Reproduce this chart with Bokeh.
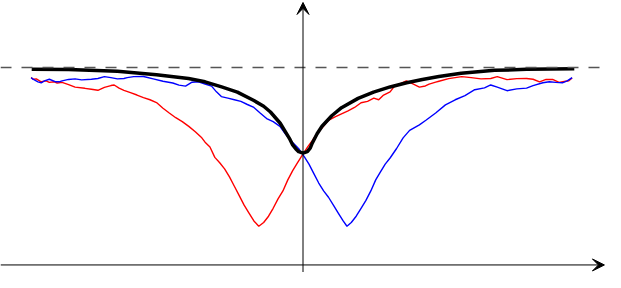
from bokeh.plotting import figure
from bokeh.models import Range1d, Span, Arrow, VeeHead
from bokeh.embed import file_html
from bokeh.resources import INLINE

# ---- data ----
asymptote = 100.0

black_x = [-100.0, -86.4, -68.4, -54.0, -42.2, -36.1, -30.0, -24.2, -18.1, -14.5, -12.0,
           -8.4, -6.3, -4.8, -3.8, -2.7, -1.6, 0.0, 1.6, 2.7, 3.4, 5.2, 7.0, 10.6, 14.2,
           20.3, 26.0, 32.1, 38.2, 44.0, 50.1, 58.3, 70.6, 82.4, 100.0]
black_y = [99.2, 99.0, 98.1, 96.4, 94.5, 92.8, 90.2, 87.6, 83.3, 80.4, 77.5,
           71.8, 67.0, 63.6, 60.8, 58.9, 57.4, 56.7, 57.4, 59.3, 61.7, 66.5, 70.3, 75.6, 79.7,
           84.4, 87.6, 90.2, 92.3, 94.0, 95.5, 97.1, 98.6, 99.1, 99.4]

red_x = [-100.2, -99.5, -98.3, -96.5, -94.7, -93.5, -91.7, -90.6, -88.8, -86.4, -84.0,
         -80.4, -78.0, -75.6, -73.2, -70.8, -69.6, -67.8, -66.0, -63.6, -61.2, -58.8,
         -56.4, -54.0, -51.6, -49.3, -46.9, -44.5, -42.1, -39.7, -37.3, -36.1, -34.3,
         -32.5, -30.7, -28.9, -27.1, -25.3, -23.5, -21.7, -19.9, -18.1, -16.3, -14.5,
         -12.7, -11.0, -9.2, -7.4, -5.6, -3.8, -2.0, -0.2, 1.6, 3.4, 4.6, 7.0, 9.4,
         11.8, 14.2, 16.6, 19.0, 21.4, 23.8, 26.1, 27.9, 29.7, 32.1, 33.9, 35.7, 38.1,
         40.5, 42.9, 45.1, 46.5, 48.9, 50.1, 53.7, 58.5, 62.0, 65.6, 69.2, 71.6, 75.2,
         78.8, 82.4, 84.8, 87.2, 89.6, 92.0, 94.4, 96.8, 98.0, 99.2]
red_y = [95.0, 94.1, 94.3, 92.8, 93.3, 92.5, 92.8, 92.2, 92.5, 91.4, 90.1,
         89.5, 89.0, 88.5, 90.0, 90.9, 91.2, 89.6, 88.5, 87.3, 86.1, 84.8,
         83.7, 82.3, 79.4, 77.0, 74.6, 72.6, 70.2, 67.5, 64.4, 62.2, 59.8,
         54.5, 51.8, 48.7, 44.6, 39.9, 35.1, 30.3, 26.3, 22.3, 19.6, 21.5,
         24.7, 28.7, 33.5, 37.5, 43.1, 47.8, 51.8, 55.8, 59.6, 63.0, 65.4, 69.4, 73.3,
         75.0, 76.6, 78.1, 79.8, 82.2, 82.9, 84.5, 83.7, 86.1, 87.7, 90.9, 91.7, 93.3,
         91.7, 90.1, 90.7, 91.6, 92.6, 93.1, 94.4, 95.4, 94.9, 94.3, 94.5, 95.4, 93.9,
         94.4, 94.5, 94.1, 92.8, 94.0, 94.0, 92.5, 93.1, 93.3, 94.7]

blue_x = [-100.2, -99.5, -97.7, -96.5, -95.3, -93.5, -91.1, -89.9, -88.8, -86.4, -84.0,
          -81.6, -78.0, -75.6, -73.2, -70.8, -68.4, -66.0, -64.8, -62.4, -58.8, -55.2,
          -51.6, -48.0, -45.7, -43.3, -40.9, -38.5, -36.1, -33.7, -31.9, -30.1, -27.7,
          -25.3, -22.9, -20.5, -18.1, -15.7, -13.4, -11.0, -8.5, -6.8, -5.2, -3.8, -1.4,
          0.4, 2.2, 4.0, 5.8, 7.6, 9.4, 11.2, 13.0, 14.8, 16.2, 17.8, 19.6, 21.4, 23.2,
          25.0, 26.8, 28.5, 30.3, 32.1, 34.5, 36.9, 39.3, 42.9, 45.3, 48.9, 52.5, 56.1,
          59.7, 63.3, 66.9, 69.2, 71.6, 75.2, 78.8, 82.4, 84.8, 88.4, 90.8, 93.2, 95.6,
          97.4, 99.2]
blue_y = [94.9, 94.1, 92.8, 92.3, 93.3, 94.1, 92.8, 92.8, 93.3, 94.0, 94.3,
          93.8, 94.1, 94.5, 95.4, 94.9, 94.3, 94.5, 94.9, 95.4, 95.5, 94.3,
          93.1, 92.2, 91.1, 90.6, 92.6, 92.8, 91.7, 90.6, 87.7, 85.3, 84.5,
          83.7, 82.9, 81.3, 79.8, 76.9, 74.2, 72.6, 70.2, 67.0, 64.1, 62.0, 58.6,
          55.0, 51.1, 46.3, 41.5, 37.5, 34.3, 30.3, 26.3, 22.3, 19.6, 21.5, 24.7, 28.7, 32.7,
          37.5, 43.1, 47.0, 51.1, 54.2, 59.0, 64.4, 68.2, 71.0, 73.3, 77.0, 81.1, 83.7,
          85.8, 88.8, 89.7, 91.2, 90.1, 88.3, 89.2, 89.6, 90.9, 92.3, 92.8, 92.5, 92.3,
          93.3, 94.9]

x_lo, x_hi = -111.5, 111.5
y_lo, y_hi = -3.83, 134.0
x_axis_tip = 111.1
y_axis_tip = 133.0

# ---- figure (fits the 621x288 window with its 8px page margin) ----
p = figure(width=605, height=272, x_range=Range1d(x_lo, x_hi), y_range=Range1d(y_lo, y_hi),
           output_backend="svg", toolbar_location=None, min_border=0)
p.axis.visible = False
p.grid.visible = False
p.outline_line_color = None
p.background_fill_color = "white"
p.border_fill_color = "white"

# asymptote (dashed)
p.add_layout(Span(location=asymptote, dimension="width", line_color="#555555",
                  line_width=1.5, line_dash="11 10"))

# axes with arrow heads
p.add_layout(Arrow(end=VeeHead(size=12, fill_color="black", line_color="black", line_width=1),
                   x_start=x_lo, y_start=0, x_end=x_axis_tip, y_end=0,
                   line_color="black", line_width=1))
p.add_layout(Arrow(end=VeeHead(size=12, fill_color="black", line_color="black", line_width=1),
                   x_start=0, y_start=y_lo, x_end=0, y_end=y_axis_tip,
                   line_color="black", line_width=1))

p.line(x=red_x, y=red_y, line_color="#ff0000", line_width=1.4)
p.line(x=blue_x, y=blue_y, line_color="#0000ff", line_width=1.4)
p.line(x=black_x, y=black_y, line_color="black", line_width=3.5, line_join="round",
       line_cap="butt")

open("out.html", "w").write(file_html(p, INLINE))
